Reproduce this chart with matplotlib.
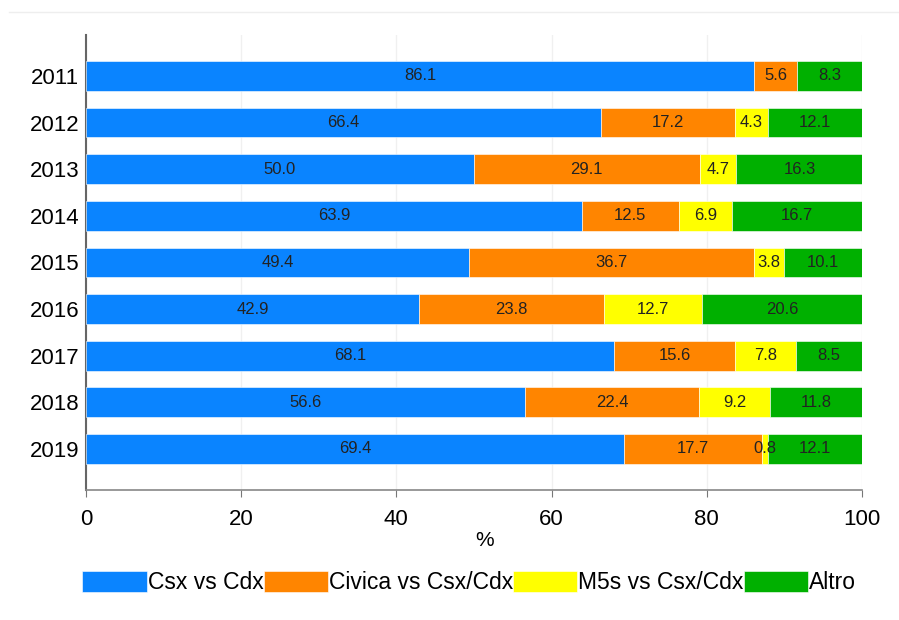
import matplotlib.pyplot as plt
import numpy as np

plt.rcParams['font.family'] = ['Liberation Sans', 'DejaVu Sans']

# data
years = ['2011', '2012', '2013', '2014', '2015', '2016', '2017', '2018', '2019']
csx_cdx = [86.1, 66.4, 50.0, 63.9, 49.4, 42.9, 68.1, 56.6, 69.4]
civica = [5.6, 17.2, 29.1, 12.5, 36.7, 23.8, 15.6, 22.4, 17.7]
m5s = [0.0, 4.3, 4.7, 6.9, 3.8, 12.7, 7.8, 9.2, 0.8]
altro = [8.3, 12.1, 16.3, 16.7, 10.1, 20.6, 8.5, 11.8, 12.1]

series = [csx_cdx, civica, m5s, altro]
names = ['Csx vs Cdx', 'Civica vs Csx/Cdx', 'M5s vs Csx/Cdx', 'Altro']
colors = ['#0A84FF', '#FF8500', '#FFFF00', '#00B000']

fig = plt.figure(figsize=(8.99, 6.2), dpi=100)
ax = fig.add_axes([0.0957, 0.2097, 0.863, 0.734])

y = np.arange(len(years))
left = np.zeros(len(years))
for vals, name, col in zip(series, names, colors):
    vals = np.array(vals)
    ax.barh(y, vals, left=left, height=0.64, color=col, label=name,
            edgecolor='white', linewidth=0.4, zorder=3)
    for yi, l, v in zip(y, left, vals):
        if v > 0:
            ax.text(l + v / 2, yi, f'{v:.1f}', ha='center', va='center',
                    fontsize=12, color='#222222', zorder=4)
    left += vals

ax.set_yticks(y)
ax.set_yticklabels(years, fontsize=16)
ax.set_ylim(8.88, -0.88)
ax.set_xlim(0, 100)
ax.set_xticks([0, 20, 40, 60, 80, 100])
ax.tick_params(axis='x', labelsize=16, length=5, color='#777777', pad=9)
ax.tick_params(axis='y', length=0, pad=5)
ax.set_xlabel('%', fontsize=15, labelpad=2)
ax.xaxis.set_label_coords(0.514, -0.09)

ax.grid(axis='x', color='#f0f0f0', linewidth=1, zorder=0)
for s in ['top', 'right']:
    ax.spines[s].set_visible(False)
ax.spines['left'].set_color('#666666')
ax.spines['left'].set_linewidth(1.5)
ax.spines['bottom'].set_color('#888888')
ax.spines['bottom'].set_linewidth(1.2)

# faint border line at top of the image
fig.add_artist(plt.Line2D([0.01, 1.0], [0.98, 0.98], color='#eeeeee', linewidth=1))

ax.legend(loc='center', bbox_to_anchor=(0.522, 0.06), bbox_transform=fig.transFigure,
          ncol=4, frameon=False, fontsize=16.5, handlelength=2.8, handleheight=1.0,
          handletextpad=0.05, columnspacing=0.0, borderaxespad=0)

fig.savefig('out.png', dpi=100)
